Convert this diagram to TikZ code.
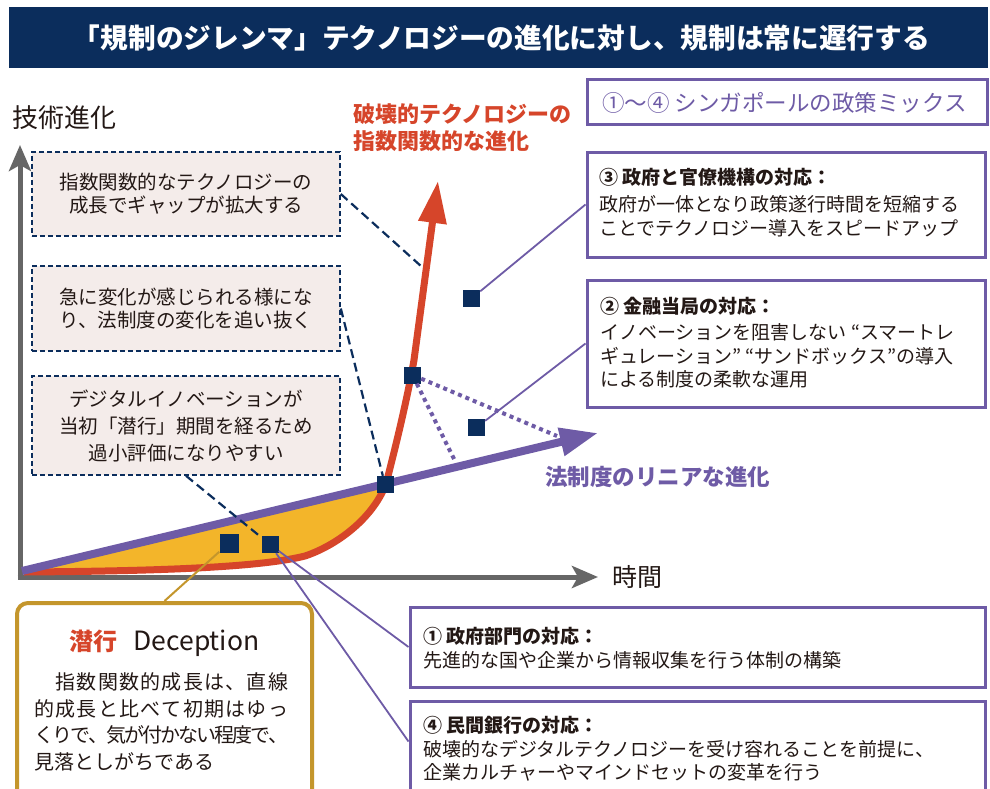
\documentclass[tikz,border=0pt]{standalone}
\usepackage{fontspec}
\setmainfont{Noto Sans CJK JP}
\usetikzlibrary{arrows.meta,calc}
\definecolor{navy}{HTML}{0B2D5C}
\definecolor{purp}{HTML}{6E5BA6}
\definecolor{redc}{HTML}{D6452A}
\definecolor{yel}{HTML}{F3B52A}
\definecolor{gold}{HTML}{C4962C}
\definecolor{axisg}{HTML}{666666}
\definecolor{pinkf}{HTML}{F4ECEA}
\definecolor{txt}{HTML}{231815}
% spread the characters of a line evenly
\def\sprd#1{#1\sprdx}
\def\sprdx#1{\ifx#1\relax\else\hskip 0pt plus 1fil minus 3pt#1\expandafter\sprdx\fi}
\newcommand{\jline}[1]{\makebox[254pt][s]{\sprd#1\relax}}
\begin{document}
\begin{tikzpicture}[x=1pt,y=-1pt,
  sq/.style={fill=navy, minimum size=17pt, inner sep=0pt, draw=none},
  dbox/.style={draw=navy, line width=1.6pt, dash pattern=on 5pt off 3pt, fill=pinkf,
    minimum width=308pt, inner sep=0pt, align=center, text=txt,
    font=\fontsize{19.5}{23}\selectfont},
  pbox/.style={draw=purp, line width=3pt, fill=white, inner sep=0pt},
  ptext/.style={anchor=west, inner sep=0pt, align=left, text=txt,
    font=\fontsize{19}{23.5}\selectfont},
  dconn/.style={navy, line width=2.2pt, dash pattern=on 9pt off 5pt},
  pconn/.style={purp, line width=1.8pt},
  gconn/.style={gold, line width=2pt},
  dotl/.style={purp, line width=4pt, dash pattern=on 4pt off 4pt},
  plain/.style={inner sep=0pt, text=txt}
]
\clip (0,0) rectangle (990,789);
\fill[white] (0,0) rectangle (990,789);

% title
\node[fill=navy, minimum width=979pt, minimum height=61pt, inner sep=0pt, anchor=north west] (titlebar) at (9,7) {};
\node[text=white, inner sep=0pt, font=\fontsize{27.7}{30}\selectfont\bfseries] (title) at (501.5,38)
  {「規制のジレンマ」テクノロジーの進化に対し、規制は常に遅行する};

% axis labels
\node[plain, anchor=west, font=\fontsize{26}{30}\selectfont] (ylab) at (12,118) {技術進化};
\node[plain, anchor=west, font=\fontsize{25}{30}\selectfont] (xlab) at (612,577) {時間};
\node[plain, anchor=west, align=left, text=redc, font=\fontsize{22}{27}\selectfont\bfseries] (redlab) at (353,128)
  {破壊的テクノロジーの\\指数関数的な進化};
\node[plain, anchor=west, text=purp, font=\fontsize{22.5}{26}\selectfont\bfseries] (purlab) at (545,477)
  {法制度のリニアな進化};

% yellow gap
\fill[yel] (24,571) -- (386,484) .. controls (372,520) and (335,546) .. (305,556)
  .. controls (265,566) and (180,571) .. (25,572) -- cycle;

% axes
\draw[axisg, line width=5pt, -{Stealth[length=26pt,width=22pt,inset=6pt]}] (20,579.5) -- (20,145);
\draw[axisg, line width=5pt, -{Stealth[length=26pt,width=22pt,inset=6pt]}] (17.5,577) -- (598,577);

% red exponential curve
\draw[redc, line width=7pt, -{Triangle[length=42pt,width=27pt]}]
  (24,572) .. controls (180,571) and (265,566) .. (305,556)
  .. controls (335,546) and (372,520) .. (386,484)
  .. controls (396,445) and (407,400) .. (414,360) -- (438,181);

% purple linear line
\draw[purp, line width=8pt, -{Triangle[length=38pt,width=27pt]}] (22,571) -- (598,433);

% squares
\node[sq, minimum size=19pt] (sA) at (229,543) {};
\node[sq] (sB) at (270,544.5) {};
\node[sq] (sI) at (385,484.5) {};
\node[sq] (sR) at (412.5,375) {};
\node[sq] (s3) at (471.5,298.5) {};
\node[sq] (s2) at (476.5,427.5) {};

% dotted lines
\coordinate (d1) at (455,461);
\coordinate (d2) at (557,436);
\draw[dotl] (sR) -- (d1);
\draw[dotl] (sR) -- (d2);

% left dashed boxes
\node[dbox, minimum height=84pt] (g1) at (186,194)
  {指数関数的なテクノロジーの\\成長でギャップが拡大する};
\node[dbox, minimum height=85pt] (g2) at (186,308.5)
  {急に変化が感じられる様にな\\り、法制度の変化を追い抜く};
\node[dbox, minimum height=99pt, font=\fontsize{19.5}{27}\selectfont] (g3) at (186,425.5)
  {デジタルイノベーションが\\当初「潜行」期間を経るため\\過小評価になりやすい};

% dashed connectors
\coordinate (e1) at (422,267);
\draw[dconn] (g1.east) -- (e1);
\draw[dconn] (g2.east) -- (sI);
\draw[dconn] (g3.south) -- (sB);

% right boxes
\node[pbox, minimum width=400pt, minimum height=45pt] (mix) at (787,102.5) {};
\node[plain, anchor=west, text=purp, font=\fontsize{22.5}{26}\selectfont] (mixt) at (602,103)
  {①～④ シンガポールの政策ミックス};

\node[pbox, minimum width=398pt, minimum height=105pt] (b3) at (786,204.5) {};
\node[ptext] (t3) at (599,202.5)
  {{\bfseries ③ 政府と官僚機構の対応：}\\[4pt]政府が一体となり政策遂行時間を短縮する\\ことでテクノロジー導入をスピードアップ};

\node[pbox, minimum width=398pt, minimum height=127pt] (b2) at (786,343.5) {};
\node[ptext] (t2) at (600,342.5)
  {{\bfseries ② 金融当局の対応：}\\[3pt]イノベーションを阻害しない “スマートレ\\ギュレーション” “サンドボックス”の導入\\による制度の柔軟な運用};

\node[pbox, minimum width=575pt, minimum height=80pt] (b1) at (697.5,647) {};
\node[ptext] (t1) at (423,648)
  {{\bfseries ① 政府部門の対応：}\\先進的な国や企業から情報収集を行う体制の構築};

\node[pbox, minimum width=575pt, minimum height=98pt] (b4) at (697.5,750) {};
\node[ptext] (t4) at (423,749)
  {{\bfseries ④ 民間銀行の対応：}\\破壊的なデジタルテクノロジーを受け容れることを前提に、\\企業カルチャーやマインドセットの変革を行う};

% gold box
\node[draw=gold, line width=4pt, rounded corners=11pt, fill=white, minimum width=295pt, minimum height=200pt, inner sep=0pt] (gbox) at (164.5,703) {};
\node[plain] (ghead) at (164.5,643)
  {{\fontsize{24}{28}\selectfont\color{redc}\bfseries 潜行}\hspace{16pt}{\fontsize{26.5}{28}\selectfont Deception}};
\node[plain, anchor=west, align=left, font=\fontsize{20}{26.7}\selectfont] (gbody) at (34,722)
  {\jline{　指数関数的成長は、直線}\\
   \jline{的成長と比べて初期はゆっ}\\
   \jline{くりで、気が付かない程度で、}\\
   見落としがちである};

% solid connectors
\draw[pconn] (s3) -- (b3.west);
\draw[pconn] (s2) -- (b2.west);
\draw[pconn] (sB) -- (b1.west);
\draw[pconn] (sB) -- ($(b4.north west)+(0,42)$);
\draw[gconn] (sA) -- (gbox.north);
\end{tikzpicture}
\end{document}
